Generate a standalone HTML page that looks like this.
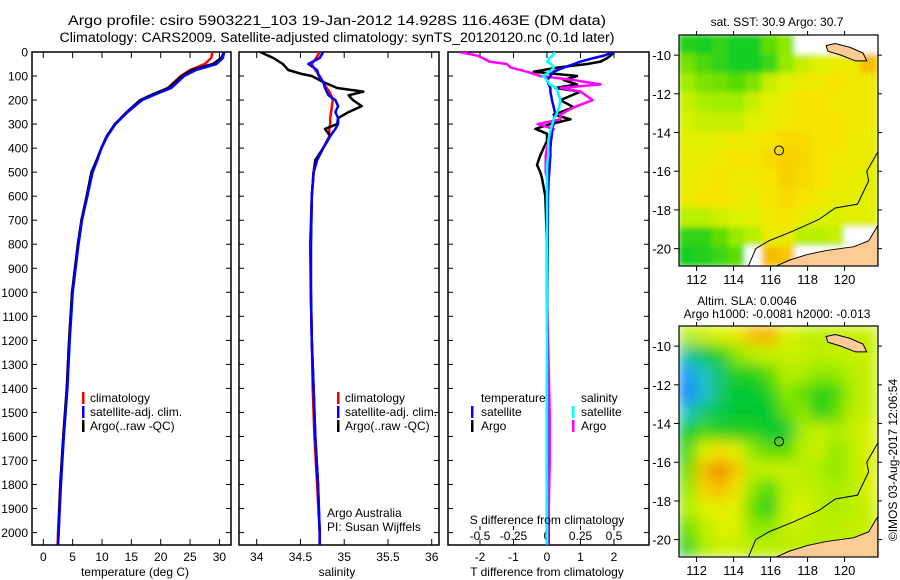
<!DOCTYPE html>
<html><head><meta charset="utf-8"><style>
html,body{margin:0;padding:0;background:#fff;}
svg{display:block;font-family:"Liberation Sans",sans-serif;}
text{fill:#000;}
</style></head><body>
<svg id="fig" width="900" height="580" viewBox="0 0 900 580" xmlns="http://www.w3.org/2000/svg">
<defs>
<clipPath id="cp1"><rect x="32" y="52" width="199" height="493"/></clipPath>
<clipPath id="cp2"><rect x="239" y="52" width="200" height="493"/></clipPath>
<clipPath id="cp3"><rect x="448" y="52" width="201" height="493"/></clipPath>
<clipPath id="cm1"><rect x="679" y="35" width="199" height="231"/></clipPath>
<clipPath id="cm2"><rect x="679" y="326" width="199" height="231"/></clipPath>
<filter id="blur" x="-5%" y="-5%" width="110%" height="110%"><feGaussianBlur stdDeviation="7"/></filter>
<filter id="blur2" x="-5%" y="-5%" width="110%" height="110%"><feGaussianBlur stdDeviation="3"/></filter>
</defs>
<text x="337" y="25" text-anchor="middle" font-size="13.5" textLength="538" lengthAdjust="spacingAndGlyphs">Argo profile: csiro 5903221_103 19-Jan-2012 14.928S 116.463E (DM data)</text>
<text x="337" y="42" text-anchor="middle" font-size="13.5" textLength="555" lengthAdjust="spacingAndGlyphs">Climatology: CARS2009. Satellite-adjusted climatology: synTS_20120120.nc (0.1d later)</text>
<g id="g1"></g>
<g id="g2"></g>
<g id="g3"></g>
<g id="m1"></g>
<g id="m2"></g>
<text x="777" y="26" text-anchor="middle" font-size="12">sat. SST: 30.9 Argo: 30.7</text>
<text x="747" y="305" text-anchor="middle" font-size="12">Altim. SLA: 0.0046</text>
<text x="777" y="318" text-anchor="middle" font-size="12">Argo h1000: -0.0081 h2000: -0.013</text>
<text transform="translate(897,460) rotate(-90)" text-anchor="middle" font-size="12">©IMOS 03-Aug-2017 12:06:54</text>
</svg>
<script>
// ---- profile data ----
const depthT = [0,25,50,75,100,150,175,200,250,300,350,400,450,500,600,700,800,900,1000,1200,1400,1600,1800,2000,2050];
const argoT = [30.8,30.3,28.9,25.3,23.6,21.3,18.7,16.5,14.2,12.2,10.8,9.9,9.1,8.2,7.4,6.5,5.9,5.4,4.9,4.4,4.0,3.4,2.9,2.6,2.5];
const climT = [28.8,28.6,27.5,25.0,23.4,21.2,18.9,16.8,14.4,12.2,10.9,9.9,9.1,8.3,7.4,6.5,5.9,5.4,4.9,4.4,4.0,3.4,2.9,2.5,2.45];
const satT  = [30.8,30.6,29.5,26.0,24.0,21.8,19.2,16.8,14.3,12.3,10.9,9.9,9.2,8.4,7.5,6.6,6.0,5.5,5.0,4.5,4.1,3.5,3.0,2.6,2.5];
const depthS = [0,25,50,75,90,100,125,150,165,180,200,225,250,275,300,320,350,400,450,500,600,800,1000,1200,1400,1600,1800,2000,2050];
const argoS = [34.04,34.19,34.30,34.36,34.5,34.63,34.76,34.92,35.22,35.05,35.1,35.2,35.05,34.93,34.92,34.78,34.84,34.76,34.67,34.65,34.63,34.62,34.62,34.63,34.65,34.67,34.70,34.72,34.72];
const climS = [34.72,34.68,34.63,34.67,34.7,34.72,34.76,34.8,34.83,34.85,34.87,34.86,34.85,34.84,34.84,34.83,34.83,34.76,34.69,34.65,34.63,34.61,34.62,34.63,34.64,34.66,34.69,34.72,34.72];
const satS  = [34.76,34.72,34.59,34.69,34.70,34.71,34.76,34.78,34.80,34.82,34.9,34.93,34.9,34.93,34.93,34.9,34.84,34.76,34.69,34.65,34.63,34.62,34.62,34.63,34.65,34.67,34.70,34.72,34.72];
const depthD = [0,15,25,40,50,65,82,100,117,135,150,165,200,230,260,280,300,320,340,370,400,430,470,500,525,600,800,1000,1500,1700,2000,2050];
const argoDT = [2.0,1.9,1.8,1.6,1.2,0.3,-0.4,0.9,0.5,0.9,0.25,1.0,0.4,0.8,0.2,0.7,0.1,-0.35,0,0,-0.1,-0.2,-0.3,-0.2,-0.15,-0.05,0,0,0.02,0.05,0.05,0.05];
const satDT  = [2.0,1.7,1.4,1.0,0.8,0.5,0.2,0.1,0.0,0.05,0.1,0.1,0.15,0.2,0.25,0.2,0.2,0.15,0.15,0.12,0.1,0.1,0.08,0.07,0.05,0.03,0.02,0.01,0,0,0,0];
const argoDS = [-0.65,-0.52,-0.48,-0.43,-0.3,-0.27,-0.15,-0.05,0.2,0.4,0.1,0.25,0.34,0.2,0.1,0.1,-0.07,0.05,0.03,0.02,0,-0.01,-0.01,-0.01,0,0,0,0,0.02,0.02,0.01,0.01];
const satDS  = [0.06,0.04,0.02,0,0.03,0.05,0.02,-0.03,0,0.02,0.07,0.08,0.1,0.09,0.07,0.05,0.04,0.03,0.02,0.01,0.01,0.01,0,0,0,0,0,0,0,0,0,0];
const depthTicks = [0,100,200,300,400,500,600,700,800,900,1000,1100,1200,1300,1400,1500,1600,1700,1800,1900,2000];
const tempTicks = [0,5,10,15,20,25,30];
const salTicks = [34,34.5,35,35.5,36];
const dtTicks = [-2,-1,0,1,2];
const dsTicks = [-0.5,-0.25,0,0.25,0.5];
// ---- map data (0..1 colour index) ----
const sstGrid = [
[0.45,0.44,0.46,0.44,0.44,0.5,0.55,null,null,null,null,null],
[0.52,0.48,0.46,0.44,0.44,0.47,0.56,0.62,0.66,0.68,0.7,0.8],
[0.57,0.53,0.52,0.49,0.53,0.62,0.66,0.69,0.7,0.72,0.7,0.7],
[0.62,0.58,0.57,0.57,0.62,0.66,0.69,0.72,0.72,0.7,0.7,0.7],
[0.64,0.62,0.62,0.62,0.65,0.68,0.7,0.72,0.72,0.72,0.7,0.7],
[0.66,0.66,0.68,0.69,0.7,0.72,0.74,0.74,0.72,0.72,0.7,0.68],
[0.67,0.68,0.7,0.72,0.72,0.74,0.76,0.75,0.72,0.7,0.7,0.68],
[0.68,0.7,0.72,0.7,0.7,0.72,0.76,0.74,0.72,0.7,0.68,0.66],
[0.68,0.72,0.72,0.7,0.68,0.72,0.74,0.72,0.7,0.68,0.67,0.66],
[0.6,0.6,0.63,0.65,0.66,0.7,0.72,0.68,0.65,0.64,0.66,0.66],
[0.46,0.46,0.5,0.56,0.6,0.68,0.68,0.6,0.6,0.62,null,null],
[0.44,0.45,0.47,0.5,null,0.8,0.78,null,null,null,null,null]];
const slaGrid = [
[0.6,0.62,0.65,0.68,0.8,0.82,0.65,0.62,0.6,0.62,0.62,0.62],
[0.35,0.4,0.45,0.55,0.6,0.62,0.62,0.62,0.6,0.62,0.62,0.62],
[0.22,0.3,0.38,0.45,0.45,0.5,0.6,0.58,0.55,0.55,0.6,0.62],
[0.2,0.28,0.38,0.42,0.42,0.45,0.55,0.5,0.45,0.48,0.58,0.62],
[0.3,0.38,0.4,0.42,0.42,0.42,0.5,0.55,0.45,0.5,0.6,0.62],
[0.42,0.48,0.45,0.45,0.45,0.42,0.42,0.58,0.62,0.58,0.62,0.65],
[0.45,0.65,0.72,0.65,0.55,0.5,0.5,0.6,0.62,0.55,0.6,0.65],
[0.5,0.8,0.88,0.78,0.6,0.62,0.62,0.6,0.58,0.55,0.6,0.65],
[0.55,0.75,0.8,0.7,0.55,0.48,0.6,0.62,0.6,0.58,0.6,0.65],
[0.58,0.65,0.68,0.65,0.5,0.45,0.62,0.65,0.6,0.58,0.6,0.62],
[0.5,0.6,0.65,0.65,0.55,0.55,0.62,0.62,0.6,0.6,0.62,0.62],
[0.45,0.58,0.62,0.62,0.6,0.6,0.6,0.6,0.6,0.6,0.6,0.6]];
const lonTicks = [112,114,116,118,120];
const latTicks = [-10,-12,-14,-16,-18,-20];
const coastLon = [121.8,121.3,120.5,119,118,117,116.3];
const coastLat = [-18.8,-19.6,-19.9,-20.1,-20.3,-20.6,-20.9];
const isoLon = [121.8,121.2,121.3,120.7,119.5,118.6,117.2,115.9,115.2,114.8];
const isoLat = [-15.0,-16.0,-16.5,-17.7,-17.9,-18.5,-19.1,-19.6,-20.0,-20.9];
const islandLon = [119.0,119.5,120.3,121.0,121.2,120.6,119.8,119.1];
const islandLat = [-9.5,-9.4,-9.6,-9.9,-10.3,-10.3,-10.0,-9.8];
const profLon = 116.46, profLat = -14.93;

const NS='http://www.w3.org/2000/svg';
function mk(tag,attrs,parent){const e=document.createElementNS(NS,tag);for(const k in attrs)e.setAttribute(k,attrs[k]);parent.appendChild(e);return e;}
const yD = d => 52 + d*0.2403;
const xT = t => 43.3 + t*5.87;
const xS = s => 256.7 + (s-34)*87.5;
const xDT = v => 547 + v*33.5;
const xDS = v => 547 + v*134;

function frame(g,x0,x1,name){
  const r=mk('rect',{x:x0,y:52,width:x1-x0,height:493,fill:'none',stroke:'#000','stroke-width':1.5},g);
  
  
}
function line(g,xs,ds,xf,color,clip,name,w){
  const pts=xs.map((v,i)=>xf(v).toFixed(1)+','+yD(ds[i]).toFixed(1)).join(' ');
  const p=mk('polyline',{points:pts,fill:'none',stroke:color,'stroke-width':w||2.5,'clip-path':'url(#'+clip+')','stroke-linejoin':'round'},g);
  
  
}
function xticks(g,ticks,xf,x0,x1,labels){
  ticks.forEach(t=>{const x=xf(t);
    mk('line',{x1:x,y1:545,x2:x,y2:539,stroke:'#000'},g);
    mk('line',{x1:x,y1:52,x2:x,y2:58,stroke:'#000'},g);
    if(labels){const tx=mk('text',{x:x,y:561,'text-anchor':'middle','font-size':12},g);tx.textContent=String(t);
      
      }
  });
}
function yticks(g,x0,x1,labels){
  depthTicks.forEach(d=>{const y=yD(d);
    mk('line',{x1:x0,y1:y,x2:x0+5,y2:y,stroke:'#000'},g);
    mk('line',{x1:x1,y1:y,x2:x1-5,y2:y,stroke:'#000'},g);
    if(labels){const t=mk('text',{x:28,y:y+4.5,'text-anchor':'end','font-size':12},g);t.textContent=String(d);
      
      }
  });
}
function txt(g,x,y,s,name,anchor,size){const t=mk('text',{x:x,y:y,'font-size':size||12,'text-anchor':anchor||'start'},g);t.textContent=s;
  
  return t;}
function legMark(g,x,y,c){const m=mk('rect',{x:x,y:y-10,width:2.5,height:12,fill:c},g);
  
  }

// panel 1
const g1=document.getElementById('g1');
frame(g1,32,231,'temperature');
xticks(g1,tempTicks,xT,32,231,true);
yticks(g1,32,231,true);
line(g1,climT,depthT,xT,'#f00','cp1','temp-climatology-line');
line(g1,argoT,depthT,xT,'#000','cp1','temp-argo-line');
line(g1,satT,depthT,xT,'#00f','cp1','temp-satellite-line');
txt(g1,135,576,'temperature (deg C)','temperature-axis-title','middle');
[['#f00','climatology'],['#00f','satellite-adj. clim.'],['#000','Argo(..raw -QC)']].forEach((e,i)=>{legMark(g1,82,402+i*14,e[0]);txt(g1,90,402+i*14,e[1],'temp-legend-entry');});

// panel 2
const g2=document.getElementById('g2');
frame(g2,239,439,'salinity');
xticks(g2,salTicks,xS,239,439,true);
yticks(g2,239,439,false);
line(g2,climS,depthS,xS,'#f00','cp2','sal-climatology-line');
line(g2,argoS,depthS,xS,'#000','cp2','sal-argo-line');
line(g2,satS,depthS,xS,'#00f','cp2','sal-satellite-line');
txt(g2,337,576,'salinity','salinity-axis-title','middle');
[['#f00','climatology'],['#00f','satellite-adj. clim.'],['#000','Argo(..raw -QC)']].forEach((e,i)=>{legMark(g2,337,402+i*14,e[0]);txt(g2,345,402+i*14,e[1],'sal-legend-entry');});
txt(g2,327,517,'Argo Australia','credit-argo-australia');
txt(g2,327,531,'PI: Susan Wijffels','credit-pi');

// panel 3
const g3=document.getElementById('g3');
frame(g3,448,649,'difference');
xticks(g3,dtTicks,xDT,448,649,true);
yticks(g3,448,649,false);
dsTicks.forEach(t=>{const x=xDS(t);mk('line',{x1:x,y1:530,x2:x,y2:526,stroke:'#000'},g3);
  txt(g3,x,540,String(t),'s-diff-tick-label','middle');});
line(g3,argoDT,depthD,xDT,'#000','cp3','t-diff-argo-line');
line(g3,argoDS,depthD,xDS,'#f0f','cp3','s-diff-argo-line');
line(g3,satDT,depthD,xDT,'#00f','cp3','t-diff-satellite-line');
line(g3,satDS,depthD,xDS,'#0ff','cp3','s-diff-satellite-line');
txt(g3,547,576,'T difference from climatology','t-diff-axis-title','middle');
txt(g3,547,524,'S difference from climatology','s-diff-axis-title','middle');
txt(g3,481,402,'temperature','legend-temperature-header');
txt(g3,581,402,'salinity','legend-salinity-header');
legMark(g3,471,416,'#00f');txt(g3,481,416,'satellite','legend-t-satellite');
legMark(g3,471,430,'#000');txt(g3,481,430,'Argo','legend-t-argo');
legMark(g3,572,416,'#0ff');txt(g3,581,416,'satellite','legend-s-satellite');
legMark(g3,572,430,'#f0f');txt(g3,581,430,'Argo','legend-s-argo');

// colormap
const stops=[[0,[0,0,128]],[0.15,[0,64,255]],[0.25,[32,192,240]],[0.35,[32,196,150]],[0.42,[0,200,48]],[0.5,[96,221,0]],[0.58,[170,238,0]],[0.65,[221,242,0]],[0.72,[246,228,0]],[0.78,[248,200,0]],[0.85,[240,160,0]],[0.92,[224,112,0]],[1,[192,64,0]]];
function cmap(v){for(let i=1;i<stops.length;i++){if(v<=stops[i][0]){const a=stops[i-1],b=stops[i];const f=(v-a[0])/(b[0]-a[0]);const c=a[1].map((x,k)=>Math.round(x+(b[1][k]-x)*f));return 'rgb('+c.join(',')+')';}}return 'rgb(192,64,0)';}

function drawMap(gid,top,grid,clip,filt,name){
  const g=document.getElementById(gid);
  const lon0=111.05,lat0=-8.96;
  const X=lo=>679+(lo-lon0)*18.5, Y=la=>top+(lat0-la)*19.35;
  const cells=mk('g',{'clip-path':'url(#'+clip+')'},g);
  const inner=mk('g',{filter:'url(#'+filt+')'},cells);
  const nr=grid.length,nc=grid[0].length,cw=199/nc,ch=231/nr;
  grid.forEach((row,r)=>row.forEach((v,c)=>{
    const rc=mk('rect',{x:679+c*cw-0.5,y:top+r*ch-0.5,width:cw+1,height:ch+1,fill:v===null?'#fff':cmap(v)},inner);
    
    
  }));
  const landPts=coastLon.map((lo,i)=>X(lo)+','+Y(coastLat[i])).join(' ')+' '+X(121.8)+','+Y(-20.9);
  const land=mk('polygon',{points:landPts,fill:'#fccb96',stroke:'#000','stroke-width':1},cells);
  
  
  const isl=mk('polygon',{points:islandLon.map((lo,i)=>X(lo)+','+Y(islandLat[i])).join(' '),fill:'#fccb96',stroke:'#000','stroke-width':1},cells);
  
  
  const iso=mk('polyline',{points:isoLon.map((lo,i)=>X(lo)+','+Y(isoLat[i])).join(' '),fill:'none',stroke:'#000','stroke-width':1},cells);
  
  
  const circ=mk('circle',{cx:X(profLon),cy:Y(profLat),r:4.5,fill:'none',stroke:'#000','stroke-width':1},g);
  
  
  const fr=mk('rect',{x:679,y:top,width:199,height:231,fill:'none',stroke:'#000','stroke-width':1.2},g);
  
  
  lonTicks.forEach(lo=>{const x=X(lo);mk('line',{x1:x,y1:top+231,x2:x,y2:top+236,stroke:'#000'},g);mk('line',{x1:x,y1:top,x2:x,y2:top-4,stroke:'#000'},g);
    txt(g,x,top+249,String(lo),'lon-tick-label','middle',13);});
  latTicks.forEach(la=>{const y=Y(la);mk('line',{x1:679,y1:y,x2:674,y2:y,stroke:'#000'},g);mk('line',{x1:878,y1:y,x2:882,y2:y,stroke:'#000'},g);
    txt(g,671,y+5,String(la),'lat-tick-label','end',13);});
}
drawMap('m1',35,sstGrid,'cm1','blur2','sst');
drawMap('m2',326,slaGrid,'cm2','blur','sla');
</script>
</body></html>
